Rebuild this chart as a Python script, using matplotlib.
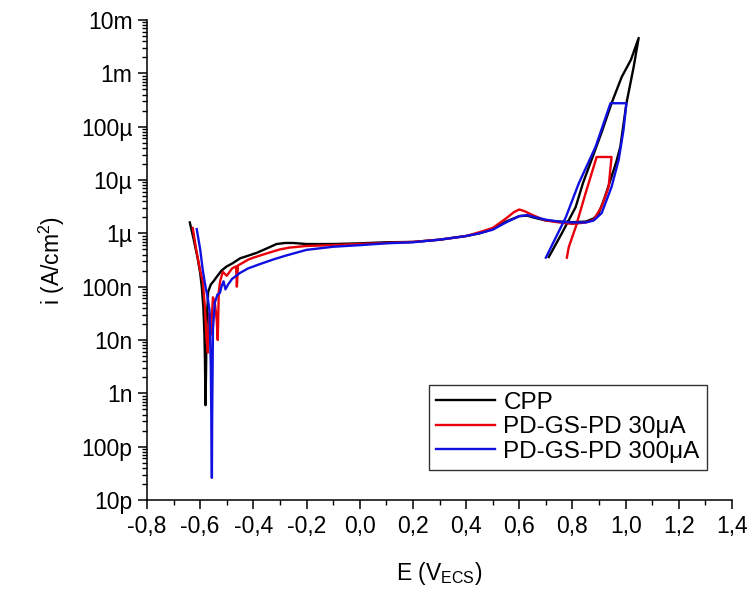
import matplotlib
matplotlib.use("Agg")
import matplotlib.pyplot as plt
from matplotlib.ticker import FixedLocator, LogLocator, MultipleLocator, FuncFormatter, NullFormatter

plt.rcParams['font.family'] = ['Liberation Sans', 'DejaVu Sans']
plt.rcParams['mathtext.fontset'] = 'custom'
plt.rcParams['mathtext.rm'] = 'Liberation Sans'

# CPP (black): forward scan then reverse
cpp_E = [-0.639, -0.625, -0.610, -0.600, -0.594, -0.588, -0.584, -0.582, -0.580, -0.578,
         -0.576, -0.570, -0.560, -0.550, -0.539, -0.520, -0.500, -0.478, -0.450, -0.420,
         -0.388, -0.350, -0.313, -0.280, -0.250, -0.200, -0.100, 0.000, 0.100, 0.200,
         0.300, 0.400, 0.450, 0.500, 0.550, 0.600, 0.630, 0.650, 0.700, 0.750,
         0.800, 0.850, 0.880, 0.899, 0.920, 0.947, 0.965, 0.980, 1.003, 1.030,
         1.049, 1.020, 0.985, 0.947, 0.910, 0.872, 0.840, 0.812, 0.760, 0.711]
cpp_i = [1.6e-6, 7.9e-7, 3.5e-7, 1.8e-7, 1.0e-7, 4.0e-8, 1.3e-8, 4.0e-9, 6.0e-10, 2.5e-9,
         2.0e-8, 8.0e-8, 1.1e-7, 1.26e-7, 1.5e-7, 2.0e-7, 2.4e-7, 2.75e-7, 3.4e-7, 3.8e-7,
         4.3e-7, 5.2e-7, 6.3e-7, 6.6e-7, 6.6e-7, 6.3e-7, 6.3e-7, 6.5e-7, 6.8e-7, 6.9e-7,
         7.6e-7, 8.9e-7, 1.0e-6, 1.2e-6, 1.66e-6, 2.1e-6, 2.15e-6, 2.0e-6, 1.74e-6, 1.66e-6,
         1.62e-6, 1.66e-6, 1.9e-6, 2.4e-6, 4.5e-6, 1.15e-5, 2.2e-5, 4.2e-5, 2.75e-4, 1.3e-3,
         4.6e-3, 1.8e-3, 8.5e-4, 2.75e-4, 7.9e-5, 2.4e-5, 8.9e-6, 3.1e-6, 1.0e-6, 3.6e-7]

# PD-GS-PD 30uA (red)
pd30_E = [-0.628, -0.615, -0.600, -0.590, -0.582, -0.576, -0.571, -0.566, -0.560, -0.552,
          -0.545, -0.538, -0.534, -0.530, -0.525, -0.515, -0.500, -0.480, -0.465, -0.462,
          -0.458, -0.440, -0.420, -0.400, -0.350, -0.300, -0.264, -0.200, -0.100, 0.000,
          0.100, 0.200, 0.300, 0.400, 0.450, 0.500, 0.550, 0.580, 0.600, 0.620,
          0.650, 0.700, 0.750, 0.800, 0.850, 0.880, 0.910, 0.936, 0.947, 0.891,
          0.850, 0.812, 0.786, 0.779]
pd30_i = [1.26e-6, 5.0e-7, 2.0e-7, 1.26e-7, 4.0e-8, 1.0e-8, 5.8e-9, 3.2e-8, 1.26e-8, 6.3e-8,
          5.0e-8, 2.5e-8, 1.0e-8, 8.0e-8, 1.26e-7, 1.9e-7, 1.6e-7, 2.2e-7, 2.4e-7, 1.0e-7,
          2.5e-7, 2.8e-7, 3.2e-7, 3.5e-7, 4.2e-7, 5.0e-7, 5.4e-7, 5.8e-7, 6.0e-7, 6.3e-7,
          6.6e-7, 6.9e-7, 7.6e-7, 8.9e-7, 1.05e-6, 1.26e-6, 1.9e-6, 2.5e-6, 2.8e-6, 2.6e-6,
          2.2e-6, 1.74e-6, 1.6e-6, 1.5e-6, 1.6e-6, 1.8e-6, 3.2e-6, 7.4e-6, 2.7e-5, 2.7e-5,
          5.8e-6, 1.3e-6, 5.5e-7, 3.5e-7]

# PD-GS-PD 300uA (blue)
pd300_E = [-0.613, -0.600, -0.590, -0.580, -0.572, -0.565, -0.560, -0.557, -0.556, -0.555,
           -0.552, -0.545, -0.535, -0.526, -0.520, -0.512, -0.505, -0.495, -0.480, -0.451,
           -0.420, -0.380, -0.328, -0.280, -0.200, -0.100, 0.000, 0.100, 0.200, 0.300,
           0.400, 0.450, 0.500, 0.550, 0.600, 0.630, 0.660, 0.700, 0.750, 0.800,
           0.850, 0.880, 0.910, 0.947, 0.974, 0.992, 1.003, 0.943, 0.887, 0.824,
           0.775, 0.700]
pd300_i = [1.2e-6, 5.0e-7, 2.0e-7, 1.0e-7, 6.3e-8, 3.6e-8, 3.2e-9, 1.0e-10, 2.6e-11, 3.2e-10,
           1.6e-8, 5.0e-8, 7.1e-8, 7.6e-8, 1.0e-7, 1.26e-7, 8.9e-8, 1.1e-7, 1.4e-7, 1.8e-7,
           2.2e-7, 2.6e-7, 3.2e-7, 3.8e-7, 4.9e-7, 5.6e-7, 6.0e-7, 6.5e-7, 6.8e-7, 7.6e-7,
           8.9e-7, 1.0e-6, 1.17e-6, 1.6e-6, 2.1e-6, 2.2e-6, 2.0e-6, 1.8e-6, 1.66e-6, 1.6e-6,
           1.6e-6, 1.74e-6, 2.4e-6, 7.4e-6, 2.4e-5, 8.7e-5, 2.75e-4, 2.75e-4, 4.2e-5, 8.7e-6,
           2.0e-6, 3.5e-7]

x_ticks = [-0.8, -0.6, -0.4, -0.2, 0.0, 0.2, 0.4, 0.6, 0.8, 1.0, 1.2, 1.4]
y_ticks = [1e-11, 1e-10, 1e-9, 1e-8, 1e-7, 1e-6, 1e-5, 1e-4, 1e-3, 1e-2]
y_tick_labels = ['10p', '100p', '1n', '10n', '100n', '1µ', '10µ', '100µ', '1m', '10m']

fig = plt.figure(figsize=(7.51, 5.92), dpi=100)
ax = fig.add_axes([147 / 751, 92 / 592, 585 / 751, 480 / 592])

ax.plot(cpp_E, cpp_i, color='black', lw=1.7, label='CPP')
ax.plot(pd30_E, pd30_i, color='#e8000b', lw=1.7, label='PD-GS-PD 30μA')
ax.plot(pd300_E, pd300_i, color='#1010e0', lw=1.7, label='PD-GS-PD 300μA')

ax.set_yscale('log')
ax.set_xlim(-0.8, 1.4)
ax.set_ylim(1e-11, 1e-2)

ax.xaxis.set_major_locator(FixedLocator(x_ticks))
ax.xaxis.set_minor_locator(MultipleLocator(0.1))
ax.xaxis.set_major_formatter(FuncFormatter(lambda v, p: f"{v:.1f}".replace('.', ',').replace('−', '-')))
ax.yaxis.set_major_locator(FixedLocator(y_ticks))
ax.yaxis.set_major_formatter(FuncFormatter(lambda v, p: y_tick_labels[p] if p is not None and p < len(y_tick_labels) else ''))
ax.yaxis.set_minor_locator(LogLocator(base=10, subs=range(2, 10), numticks=20))
ax.yaxis.set_minor_formatter(NullFormatter())

for s in ['top', 'right']:
    ax.spines[s].set_visible(False)
for s in ['left', 'bottom']:
    ax.spines[s].set_linewidth(1.1)

ax.tick_params(which='major', direction='out', length=6.5, width=1.1, labelsize=16.5, pad=4)
ax.tick_params(which='minor', direction='out', length=3.5, width=1.0)

ax.set_xlabel('E (V$_\\mathregular{ECS}$)', fontsize=16.5, labelpad=16)
ax.set_ylabel('i (A/cm$^\\mathregular{2}$)', fontsize=16.5, labelpad=10)

leg = ax.legend(loc='lower right', bbox_to_anchor=(0.957, 0.0625), borderaxespad=0,
                fontsize=17.5, handlelength=2.4, handletextpad=0.35, labelspacing=0.1,
                fancybox=False, framealpha=1, edgecolor='#333333', borderpad=0.3)
leg.get_frame().set_linewidth(1.0)

fig.savefig('out.png', dpi=100)
